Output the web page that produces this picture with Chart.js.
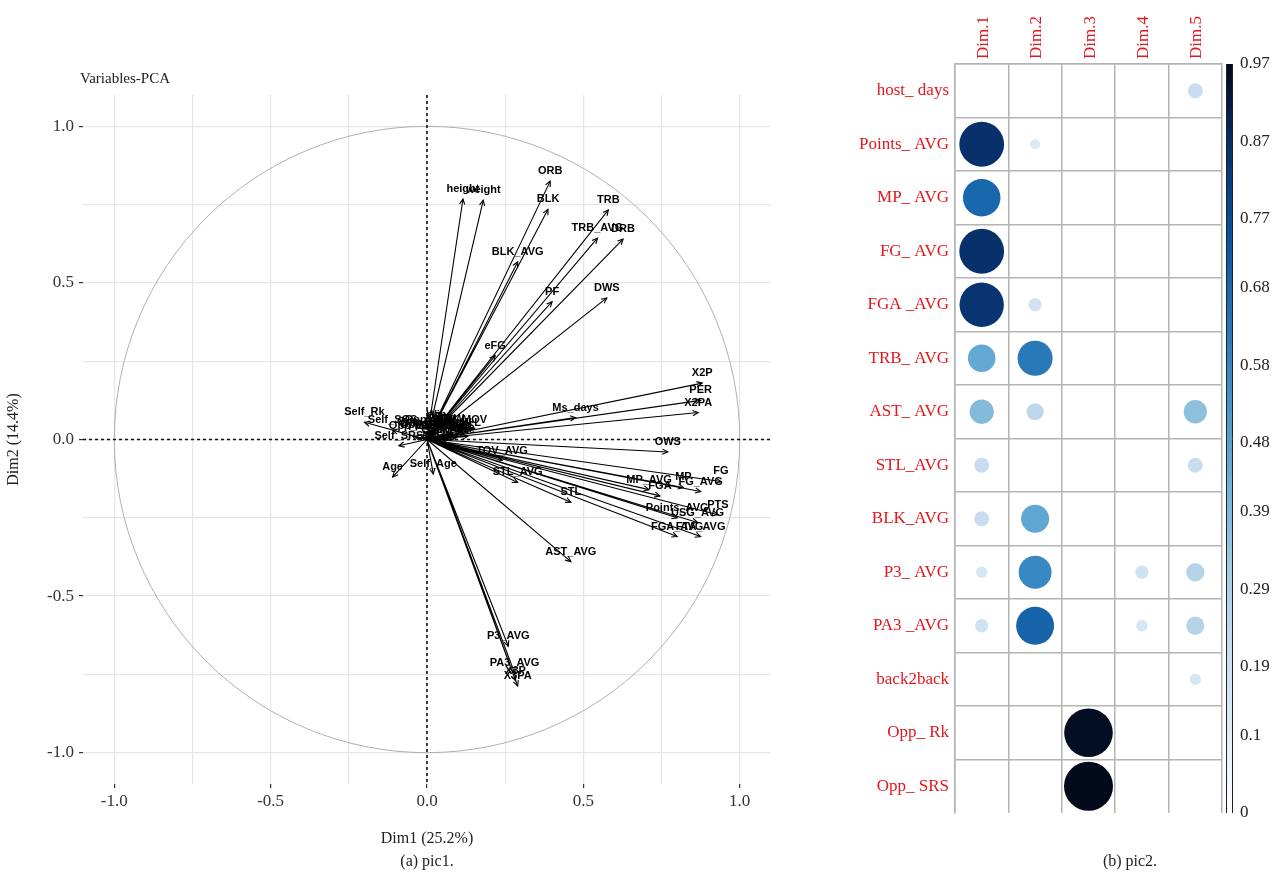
<!DOCTYPE html>
<html>
<head>
<meta charset="utf-8">
<script src="https://cdn.jsdelivr.net/npm/chart.js@4.4.0/dist/chart.umd.min.js"></script>
<style>
  body { margin: 0; background: #fff; width: 1274px; height: 889px; position: relative; overflow: hidden; font-family: "Liberation Serif", serif; }
  #pca { position: absolute; left: 0; top: 0; }
  #cor { position: absolute; left: 840px; top: 0; }
  .cap { position: absolute; font-size: 16px; color: #222; white-space: nowrap; }
</style>
</head>
<body>
<canvas id="pca" width="820" height="889"></canvas>
<canvas id="cor" width="434" height="889"></canvas>
<div class="cap" style="left:80px;top:70px;font-size:15px">Variables-PCA</div>
<div class="cap" style="left:427px;top:852px;transform:translateX(-50%)">(a) pic1.</div>
<div class="cap" style="left:1130px;top:852px;transform:translateX(-50%)">(b) pic2.</div>
<script>
"use strict";

// ---- left panel: PCA variable coordinates ----
const varNames = [
  "height", "weight", "ORB", "BLK", "TRB", "TRB_AVG", "DRB", "BLK_AVG", "PF", "DWS", "eFG",
  "X2P", "PER", "X2PA", "Ms_days", "OWS",
  "FG", "MP_AVG", "MP", "FG_AVG", "FGA", "PTS", "Points_AVG", "USG_AVG", "FGA_AVG", "FTA_AVG",
  "TOV_AVG", "STL_AVG", "STL", "AST_AVG",
  "P3_AVG", "PA3_AVG", "X3P", "X3PA",
  "Self_Rk", "Self_SOS", "Self_SRS", "Age", "Self_Age",
  "host_days", "back2back", "Opp_Rk", "Opp_SRS", "Opp_W", "Opp_L", "Self_W", "Self_L", "Rest", "Home", "DRtg", "ORtg",
  "Opp_SOS", "Opp_MOV", "Self_MOV", "Opp_Age", "Win", "Pace", "FTr", "TS", "Opp_Pace", "Self_Pace"
];
const dim1Coord = [
  0.115, 0.18, 0.394, 0.387, 0.58, 0.545, 0.627, 0.29, 0.40, 0.575, 0.218,
  0.88, 0.875, 0.867, 0.475, 0.77,
  0.94, 0.71, 0.82, 0.875, 0.745, 0.93, 0.80, 0.865, 0.80, 0.875,
  0.24, 0.29, 0.46, 0.46,
  0.26, 0.28, 0.283, 0.29,
  -0.20, -0.11, -0.09, -0.11, 0.02,
  0.03, 0.05, -0.02, 0.01, 0.08, 0.10, 0.06, 0.12, 0.02, 0.09, 0.07, 0.04,
  -0.04, 0.0, 0.11, 0.06, 0.03, 0.09, 0.05, 0.13, -0.01, 0.07
];
const dim2Coord = [
  0.768, 0.764, 0.825, 0.735, 0.733, 0.643, 0.64, 0.567, 0.44, 0.452, 0.268,
  0.18, 0.125, 0.086, 0.07, -0.04,
  -0.134, -0.16, -0.153, -0.166, -0.18, -0.24, -0.25, -0.265, -0.31, -0.31,
  -0.067, -0.137, -0.2, -0.39,
  -0.66, -0.745, -0.77, -0.787,
  0.055, 0.03, -0.02, -0.12, -0.11,
  0.02, 0.01, 0.015, 0.03, 0.02, 0.01, 0.035, 0.02, 0.01, 0.005, 0.025, 0.04,
  0.01, 0.02, 0.03, 0.0, 0.045, 0.015, 0.0, 0.01, 0.025, 0.0
];
const axisTicks = [-1, -0.75, -0.5, -0.25, 0, 0.25, 0.5, 0.75, 1];
const axisTickLabels = ["-1.0", "", "-0.5", "", "0.0", "", "0.5", "", "1.0"];

// ---- right panel: cos2 of variables per dimension ----
const rowLabels = ["host_ days", "Points_ AVG", "MP_ AVG", "FG_ AVG", "FGA _AVG", "TRB_ AVG", "AST_ AVG",
  "STL_AVG", "BLK_AVG", "P3_ AVG", "PA3 _AVG", "back2back", "Opp_ Rk", "Opp_ SRS"];
const dimLabels = ["Dim.1", "Dim.2", "Dim.3", "Dim.4", "Dim.5"];
const cos2Dim1 = [0, 0.86, 0.68, 0.86, 0.85, 0.45, 0.38, 0.20, 0.20, 0.14, 0.17, 0, 0, 0];
const cos2Dim2 = [0, 0.12, 0.02, 0.02, 0.17, 0.62, 0.24, 0.01, 0.46, 0.57, 0.69, 0, 0, 0];
const cos2Dim3 = [0, 0, 0, 0, 0, 0, 0, 0, 0, 0, 0, 0, 0.96, 0.97];
const cos2Dim4 = [0, 0, 0, 0, 0.01, 0.01, 0.01, 0, 0, 0.17, 0.14, 0, 0, 0];
const cos2Dim5 = [0.20, 0.02, 0, 0.015, 0.01, 0, 0.36, 0.20, 0.01, 0.26, 0.26, 0.14, 0, 0];
const colorbarTicks = [0, 0.1, 0.19, 0.29, 0.39, 0.48, 0.58, 0.68, 0.77, 0.87, 0.97];
const cos2Max = 0.97;

const blues = ["#FFFFFF", "#DEEBF7", "#C6DBEF", "#9ECAE1", "#6BAED6", "#4292C6", "#2171B5", "#08519C", "#08306B", "#020A1C"];

function hexRgb(h) {
  return [parseInt(h.substr(1, 2), 16), parseInt(h.substr(3, 2), 16), parseInt(h.substr(5, 2), 16)];
}
function blueFor(v) {
  let f = Math.max(0, Math.min(1, v / cos2Max)) * (blues.length - 1);
  let i = Math.min(Math.floor(f), blues.length - 2);
  let t = f - i;
  let a = hexRgb(blues[i]), b = hexRgb(blues[i + 1]);
  let c = a.map((u, k) => Math.round(u + (b[k] - u) * t));
  return `rgb(${c[0]},${c[1]},${c[2]})`;
}

// arrows: origin -> coordinate, with gaps between them
let arrowData = [];
for (let i = 0; i < varNames.length; i++) {
  arrowData.push({ x: 0, y: 0 });
  arrowData.push({ x: dim1Coord[i], y: dim2Coord[i] });
  arrowData.push({ x: dim1Coord[i], y: null });
}

const serif = "'Liberation Serif', 'Times New Roman', serif";

const pcaDecor = {
  id: "pcaDecor",
  beforeDatasetsDraw(chart) {
    const { ctx, chartArea: a, scales: { x, y } } = chart;
    const x0 = x.getPixelForValue(0), y0 = y.getPixelForValue(0);
    const rx = x.getPixelForValue(1) - x0, ry = y0 - y.getPixelForValue(1);
    ctx.save();
    ctx.strokeStyle = "#b0b0b0";
    ctx.lineWidth = 1;
    ctx.beginPath();
    ctx.ellipse(x0, y0, rx, ry, 0, 0, Math.PI * 2);
    ctx.stroke();
    ctx.strokeStyle = "#111";
    ctx.lineWidth = 1.6;
    ctx.setLineDash([3, 3]);
    ctx.beginPath();
    ctx.moveTo(a.left, y0); ctx.lineTo(a.right, y0);
    ctx.moveTo(x0, a.top); ctx.lineTo(x0, a.bottom);
    ctx.stroke();
    ctx.restore();
  },
  afterDatasetsDraw(chart) {
    const { ctx, scales: { x, y } } = chart;
    const x0 = x.getPixelForValue(0), y0 = y.getPixelForValue(0);
    ctx.save();
    ctx.strokeStyle = "#000";
    ctx.lineWidth = 1.1;
    for (let i = 0; i < varNames.length; i++) {
      const px = x.getPixelForValue(dim1Coord[i]), py = y.getPixelForValue(dim2Coord[i]);
      const ang = Math.atan2(py - y0, px - x0);
      ctx.beginPath();
      ctx.moveTo(px - 6 * Math.cos(ang - 0.45), py - 6 * Math.sin(ang - 0.45));
      ctx.lineTo(px, py);
      ctx.lineTo(px - 6 * Math.cos(ang + 0.45), py - 6 * Math.sin(ang + 0.45));
      ctx.stroke();
    }
    ctx.fillStyle = "#000";
    ctx.font = "bold 11px 'Liberation Sans', Arial, sans-serif";
    ctx.textAlign = "center";
    ctx.textBaseline = "middle";
    for (let i = 0; i < varNames.length; i++) {
      const px = x.getPixelForValue(dim1Coord[i]), py = y.getPixelForValue(dim2Coord[i]);
      ctx.fillText(varNames[i], px, py - 10);
    }
    ctx.restore();
  }
};

new Chart(document.getElementById("pca"), {
  type: "scatter",
  data: {
    datasets: [{
      data: arrowData,
      showLine: true,
      spanGaps: false,
      borderColor: "#000",
      borderWidth: 1.1,
      pointRadius: 0
    }]
  },
  plugins: [pcaDecor],
  options: {
    responsive: false,
    animation: false,
    events: [],
    layout: { padding: { left: 0, top: 95, right: 49, bottom: 41 } },
    plugins: { legend: { display: false }, tooltip: { enabled: false } },
    scales: {
      x: {
        type: "linear", min: -1.1, max: 1.1,
        afterBuildTicks: s => { s.ticks = axisTicks.map(v => ({ value: v })); },
        afterFit: s => { s.height = 64; },
        ticks: {
          autoSkip: false, maxRotation: 0, padding: 3,
          color: "#333", font: { family: serif, size: 17 },
          callback: (v, i) => axisTickLabels[i]
        },
        grid: {
          color: "#e6e6e6", lineWidth: 1.2, tickLength: 4,
          tickColor: c => (c.index % 2 === 0 ? "#333" : "rgba(0,0,0,0)")
        },
        border: { display: false },
        title: { display: true, text: "Dim1 (25.2%)", color: "#222", font: { family: serif, size: 16 }, padding: { top: 4, bottom: 0 } }
      },
      y: {
        type: "linear", min: -1.1, max: 1.1,
        afterBuildTicks: s => { s.ticks = axisTicks.map(v => ({ value: v })); },
        afterFit: s => { s.width = 83; },
        ticks: {
          autoSkip: false, padding: 5,
          color: "#333", font: { family: serif, size: 17 },
          callback: (v, i) => axisTickLabels[i]
        },
        grid: {
          color: "#e6e6e6", lineWidth: 1.2, tickLength: 4,
          tickColor: c => (c.index % 2 === 0 ? "#333" : "rgba(0,0,0,0)")
        },
        border: { display: false },
        title: { display: true, text: "Dim2 (14.4%)", color: "#222", font: { family: serif, size: 16 }, padding: { top: 4, bottom: 4 } }
      }
    }
  }
});

// ---- right panel ----
const cos2Cols = [cos2Dim1, cos2Dim2, cos2Dim3, cos2Dim4, cos2Dim5];
let bubbles = [];
cos2Cols.forEach((col, j) => {
  col.forEach((v, i) => {
    if (v > 0) bubbles.push({ x: dimLabels[j], y: rowLabels[i], v: v });
  });
});

const colorbar = {
  id: "colorbar",
  afterDraw(chart) {
    const { ctx, chartArea: a } = chart;
    const cb = chart.scales.cb;
    const top = cb.getPixelForValue(cos2Max), bot = cb.getPixelForValue(0);
    const x1 = a.right + 4, w = 6;
    const g = ctx.createLinearGradient(0, bot, 0, top);
    blues.forEach((c, i) => g.addColorStop(i / (blues.length - 1), c));
    ctx.save();
    ctx.fillStyle = g;
    ctx.fillRect(x1, top, w, bot - top);
    ctx.strokeStyle = "#222";
    ctx.lineWidth = 1;
    ctx.beginPath();
    ctx.moveTo(x1 + 0.5, top); ctx.lineTo(x1 + 0.5, bot);
    ctx.moveTo(x1 + w + 0.5, top); ctx.lineTo(x1 + w + 0.5, bot);
    ctx.stroke();
    ctx.restore();
  }
};

const gridGray = "#b4b4b4";
const bubbleMaxR = 24.5;

new Chart(document.getElementById("cor"), {
  type: "bubble",
  data: {
    datasets: [{
      data: bubbles,
      borderWidth: 0,
      hoverRadius: 0,
      backgroundColor: c => (c.raw ? blueFor(c.raw.v) : "#fff"),
      radius: c => (c.raw ? bubbleMaxR * Math.pow(c.raw.v / cos2Max, 0.75) : 0)
    }]
  },
  plugins: [colorbar],
  options: {
    responsive: false,
    animation: false,
    events: [],
    layout: { padding: { left: 0, top: 0, right: 0, bottom: 76 } },
    plugins: { legend: { display: false }, tooltip: { enabled: false } },
    scales: {
      x: {
        type: "category", labels: dimLabels, position: "top", offset: true,
        afterFit: s => { s.height = 64; },
        ticks: {
          minRotation: 90, maxRotation: 90, padding: 5, labelOffset: 22,
          color: "#e3161d", font: { family: serif, size: 17 }
        },
        grid: { offset: true, drawTicks: false, color: gridGray, lineWidth: 1.5 },
        border: { display: true, color: gridGray, width: 1.5 }
      },
      y: {
        type: "category", labels: rowLabels, position: "left", offset: true,
        afterFit: s => { s.width = 115; },
        ticks: {
          padding: 6,
          color: "#e3161d", font: { family: serif, size: 17 }
        },
        grid: {
          offset: true, drawTicks: false, lineWidth: 1.5,
          color: c => (c.type === "tick" ? gridGray : "rgba(0,0,0,0)")
        },
        border: { display: true, color: gridGray, width: 1.5 }
      },
      cb: {
        type: "linear", position: "right", min: 0, max: cos2Max,
        afterBuildTicks: s => { s.ticks = colorbarTicks.map(v => ({ value: v })); },
        afterFit: s => { s.width = 52; },
        ticks: {
          padding: 18, autoSkip: false,
          color: "#222", font: { family: serif, size: 17 },
          callback: v => String(v)
        },
        grid: { display: false, drawTicks: false },
        border: { display: false }
      }
    }
  }
});
</script>
</body>
</html>
